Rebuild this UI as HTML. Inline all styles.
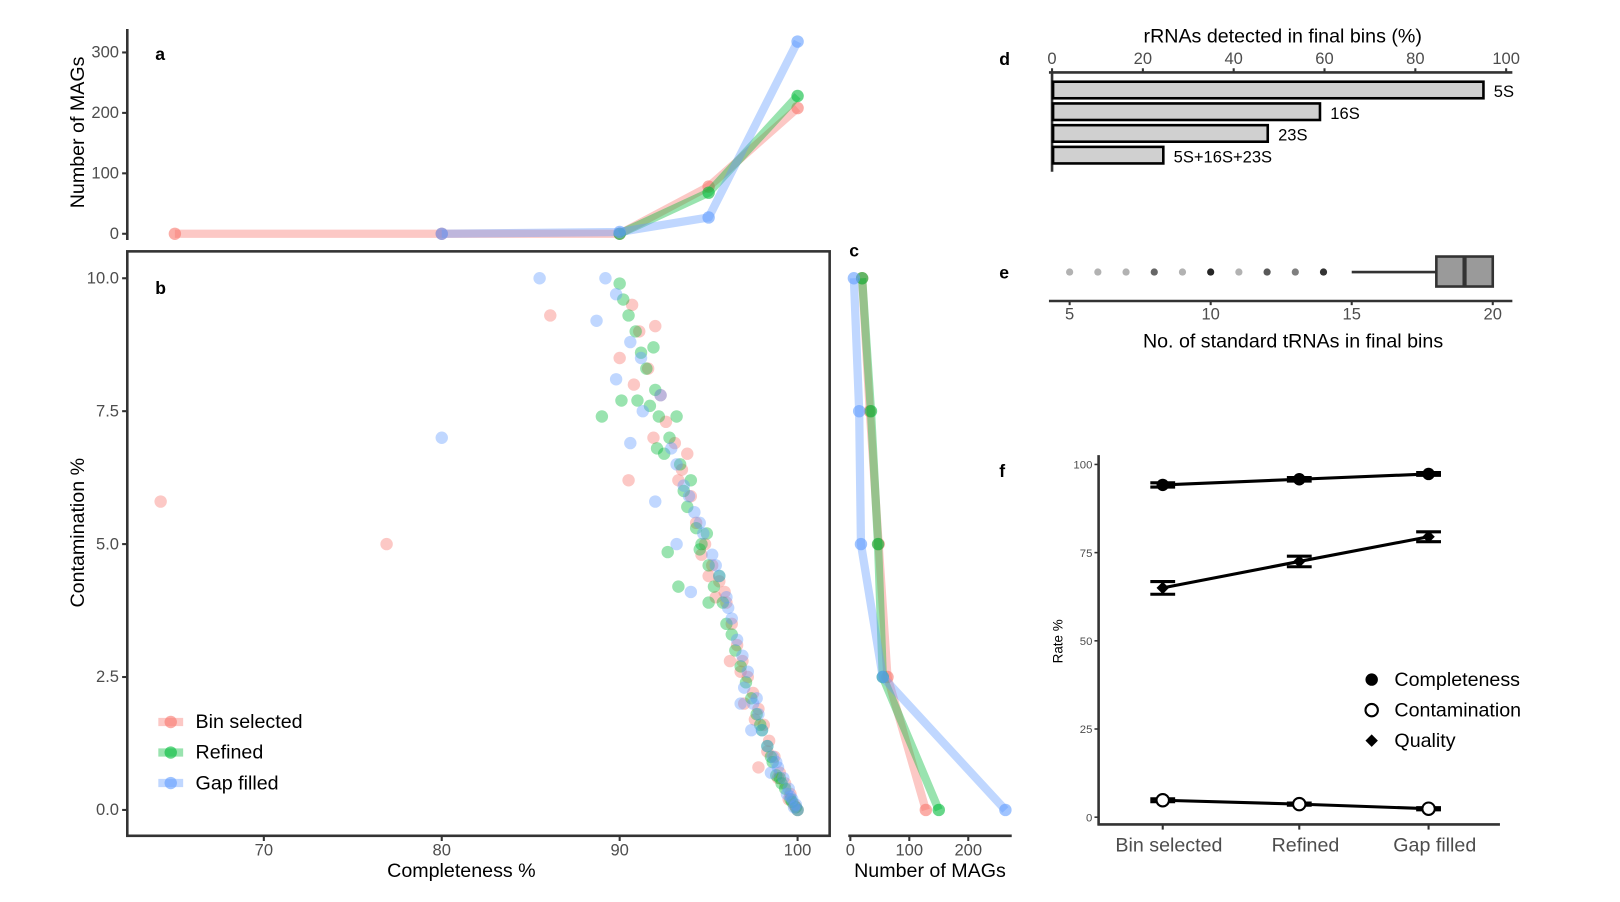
<!DOCTYPE html>
<html><head><meta charset="utf-8"><style>
html,body{margin:0;padding:0;background:#fff}
svg{display:block;font-family:"Liberation Sans",Arial,sans-serif}
.tk{fill:#4d4d4d;font-size:16px}
.tt{fill:#000;font-size:19px}
.lb{font-weight:bold;font-size:17px;fill:#000}
</style></head><body>
<svg id="fig" width="1620" height="902" viewBox="0 0 1566 872" xmlns="http://www.w3.org/2000/svg">
<g id="pa"></g>
<g id="pb"></g>
<g id="pc"></g>
<g id="pd"></g>
<g id="pe"></g>
<g id="pf"></g>
</svg>
<script>
// ---- data ----
const seriesNames = ["Bin selected","Refined","Gap filled"];
const seriesColors = ["#f8766d","#00ba38","#619cff"];
// panel a
const aX_red = [65,80,90,95,100];
const aY_red = [0,0,0,78,208];
const aX_green = [90,95,100];
const aY_green = [0,68,228];
const aX_blue = [80,90,95,100];
const aY_blue = [0,3,27,318];
const aTicksY = [0,100,200,300];
// panel b scatter
const bRedX = [64.2,76.9,86.1,90.0,90.5,97.8,90.7,91.1,91.6,92.3,92.6,93.1,93.8,93.5,94.0,94.3,94.8,95.2,95.6,96.0,96.3,96.6,96.9,97.2,97.5,97.8,98.1,98.4,98.7,99.0,99.3,99.6,100,99.8,90.8,91.9,95.9,97.0,96.2,92.0,94.6,95.4,96.8,97.6,98.3,98.9,99.5,99.9,93.3,95.0];
const bRedY = [5.8,5.0,9.3,8.5,6.2,0.8,9.5,9.0,8.3,7.8,7.3,6.9,6.7,6.4,5.9,5.4,5.0,4.6,4.3,3.9,3.5,3.1,2.8,2.5,2.2,1.9,1.6,1.3,1.0,0.7,0.5,0.3,0,0.1,8.0,7.0,4.1,2.0,2.8,9.1,4.8,4.0,2.6,1.7,1.1,0.6,0.2,0.05,6.2,4.4];
const bGreenX = [89,92.7,93.3,90.1,98.8,90.0,90.2,90.5,90.9,91.2,91.5,91.9,92.0,91.7,92.2,92.8,93.2,92.5,93.4,94.0,93.8,94.3,94.6,94.5,95.0,95.3,95.0,95.8,96.0,96.5,96.8,97.1,97.4,97.7,98.0,98.3,98.6,99.0,99.3,99.6,100,99.9,91.0,92.1,95.6,96.3,97.9,98.5,99.1,99.7,94.9,93.6];
const bGreenY = [7.4,4.85,4.2,7.7,0.65,9.9,9.6,9.3,9.0,8.6,8.3,8.7,7.9,7.6,7.4,7.0,7.4,6.7,6.5,6.2,5.7,5.3,5.0,4.9,4.6,4.2,3.9,3.9,3.5,3.0,2.7,2.4,2.1,1.8,1.5,1.2,0.9,0.6,0.4,0.2,0,0.05,7.7,6.8,4.4,3.3,1.6,1.0,0.5,0.15,5.2,6.0];
const bBlueX = [85.5,89.2,88.7,80,92.0,90.6,89.8,93.2,94.0,89.8,90.6,91.2,92.3,91.3,92.9,93.2,93.6,94.2,94.7,95.2,95.6,96.0,96.3,96.6,96.9,97.2,97.0,97.5,97.8,98.0,98.3,98.6,98.9,99.2,99.5,99.7,100,99.9,99.4,98.5,96.8,97.4,95.4,96.1,97.7,98.8,99.6,99.8,94.5,93.9];
const bBlueY = [10,10,9.2,7.0,5.8,6.9,8.1,5.0,4.1,9.7,8.8,8.5,7.8,7.5,6.8,6.5,6.1,5.6,5.2,4.8,4.4,4.0,3.6,3.2,2.9,2.6,2.3,2.0,1.8,1.5,1.2,1.0,0.8,0.6,0.4,0.2,0,0.1,0.3,0.7,2.0,1.5,4.6,3.8,2.1,0.9,0.25,0.05,5.4,5.9];
const bTicksX = [70,80,90,100];
const bTicksY = [0,2.5,5,7.5,10];
// panel c
const cLevels = [10,7.5,5,2.5,0];
const cRed = [20,33,48,63,128];
const cGreen = [20,35,47,55,150];
const cBlue = [6,15,18,55,263];
const cTicks = [0,100,200];
// panel d
const dCats = ["5S","16S","23S","5S+16S+23S"];
const dVals = [95,59,47.5,24.5];
const dTicks = [0,20,40,60,80,100];
// panel e
const eOutliers = [5,6,7,8,9,10,11,12,13,14];
const eOutShade = [0.3,0.3,0.3,0.6,0.3,0.85,0.3,0.65,0.5,0.8];
const eWhiskerLo = 15, eQ1 = 18, eMed = 19, eQ3 = 20;
const eTicks = [5,10,15,20];
// panel f
const fCats = ["Bin selected","Refined","Gap filled"];
const fComp = [94.2,95.8,97.3];
const fCompErr = [0.6,0.5,0.4];
const fQual = [65,72.5,79.5];
const fQualErr = [1.8,1.5,1.4];
const fCont = [4.8,3.7,2.4];
const fContErr = [0.4,0.3,0.3];
const fTicks = [0,25,50,75,100];

const NS="http://www.w3.org/2000/svg";
function mk(tag,attrs,parent,text){const e=document.createElementNS(NS,tag);for(const k in attrs)e.setAttribute(k,attrs[k]);if(text!==undefined)e.textContent=text;parent.appendChild(e);return e;}

const xC = v => 771 + (v-100)*17.2;
const yCont = v => 783 - v*51.4;

// ---- panel a ----
const pa=document.getElementById('pa');
const yA = v => 226 - v*0.5843;
let el=mk('line',{x1:123,y1:28,x2:123,y2:232,stroke:'#333','stroke-width':2.5},pa);
 
aTicksY.forEach(t=>{mk('line',{x1:118,x2:123,y1:yA(t),y2:yA(t),stroke:'#333','stroke-width':2},pa);
 el=mk('text',{x:115,y:yA(t)+5,'text-anchor':'end',class:'tk'},pa,t);
  });
el=mk('text',{x:81,y:128,'text-anchor':'middle',class:'tt',transform:'rotate(-90 81 128)'},pa,'Number of MAGs');
 
el=mk('text',{x:150,y:58,class:'lb'},pa,'a');  
function lineSeries(g,xs,ys,fx,fy,col,name){
 const pts=xs.map((x,i)=>fx(x)+','+fy(ys[i])).join(' ');
 let l=mk('polyline',{points:pts,fill:'none',stroke:col,'stroke-width':8,'stroke-opacity':0.4,'stroke-linejoin':'round'},g);
  
 xs.forEach((x,i)=>{let c=mk('circle',{cx:fx(x),cy:fy(ys[i]),r:6,fill:col,'fill-opacity':0.6},g);
   });
}
lineSeries(pa,aX_red,aY_red,xC,yA,seriesColors[0],'a-bin-selected');
lineSeries(pa,aX_green,aY_green,xC,yA,seriesColors[1],'a-refined');
lineSeries(pa,aX_blue,aY_blue,xC,yA,seriesColors[2],'a-gap-filled');

// ---- panel b ----
const pb=document.getElementById('pb');
el=mk('rect',{x:123,y:243,width:679,height:565,fill:'none',stroke:'#333','stroke-width':2.5},pb);
 
bTicksX.forEach(t=>{mk('line',{x1:xC(t),x2:xC(t),y1:808,y2:813,stroke:'#333','stroke-width':2},pb);
 el=mk('text',{x:xC(t),y:827,'text-anchor':'middle',class:'tk'},pb,t);
  });
bTicksY.forEach(t=>{mk('line',{x1:118,x2:123,y1:yCont(t),y2:yCont(t),stroke:'#333','stroke-width':2},pb);
 el=mk('text',{x:115,y:yCont(t)+5,'text-anchor':'end',class:'tk'},pb,t.toFixed(1));
  });
el=mk('text',{x:446,y:848,'text-anchor':'middle',class:'tt'},pb,'Completeness %');
 
el=mk('text',{x:81,y:515,'text-anchor':'middle',class:'tt',transform:'rotate(-90 81 515)'},pb,'Contamination %');
 
el=mk('text',{x:150,y:284,class:'lb'},pb,'b');  
function scatter(xs,ys,col,name){xs.forEach((x,i)=>{let c=mk('circle',{cx:xC(x),cy:yCont(ys[i]),r:6,fill:col,'fill-opacity':0.4},pb);
  });}
scatter(bRedX,bRedY,seriesColors[0],'b-bin-selected');
scatter(bGreenX,bGreenY,seriesColors[1],'b-refined');
scatter(bBlueX,bBlueY,seriesColors[2],'b-gap-filled');
seriesNames.forEach((n,i)=>{const y=698+i*29.5;
 let g=mk('g',{},pb);  
 mk('line',{x1:153,x2:177,y1:y,y2:y,stroke:seriesColors[i],'stroke-width':8,'stroke-opacity':0.4},g);
 mk('circle',{cx:165,cy:y,r:6,fill:seriesColors[i],'fill-opacity':0.6},g);
 mk('text',{x:189,y:y+6,class:'tt'},g,n);});

// ---- panel c ----
const pc=document.getElementById('pc');
const xN = v => 822 + v*0.57;
el=mk('line',{x1:820,x2:978,y1:808,y2:808,stroke:'#333','stroke-width':2.5},pc);
 
cTicks.forEach(t=>{mk('line',{x1:xN(t),x2:xN(t),y1:808,y2:813,stroke:'#333','stroke-width':2},pc);
 el=mk('text',{x:xN(t),y:827,'text-anchor':'middle',class:'tk'},pc,t);
  });
el=mk('text',{x:899,y:848,'text-anchor':'middle',class:'tt'},pc,'Number of MAGs');
 
el=mk('text',{x:821,y:248,class:'lb'},pc,'c');  
lineSeries(pc,cRed,cLevels,xN,yCont,seriesColors[0],'c-bin-selected');
lineSeries(pc,cGreen,cLevels,xN,yCont,seriesColors[1],'c-refined');
lineSeries(pc,cBlue,cLevels,xN,yCont,seriesColors[2],'c-gap-filled');

// ---- panel d ----
const pd=document.getElementById('pd');
const xD = v => 1017 + v*4.39;
el=mk('line',{x1:1014,x2:1462,y1:70,y2:70,stroke:'#333','stroke-width':2.5},pd);
 
mk('line',{x1:1017,x2:1017,y1:70,y2:166,stroke:'#333','stroke-width':2.5},pd);
dTicks.forEach(t=>{mk('line',{x1:xD(t),x2:xD(t),y1:66,y2:70,stroke:'#333','stroke-width':2},pd);
 el=mk('text',{x:xD(t),y:62,'text-anchor':'middle',class:'tk'},pd,t);
  });
el=mk('text',{x:1240,y:41,'text-anchor':'middle',class:'tt'},pd,'rRNAs detected in final bins (%)');
 
el=mk('text',{x:966,y:63,class:'lb'},pd,'d');  
dCats.forEach((c,i)=>{const y=79+i*21;
 let r=mk('rect',{x:1018,y:y,width:xD(dVals[i])-1018,height:16,fill:'#d0d0d0',stroke:'#000','stroke-width':2.5},pd);
  
 let t=mk('text',{x:xD(dVals[i])+10,y:y+15,'font-size':16,fill:'#000'},pd,c);
  });

// ---- panel e ----
const pe=document.getElementById('pe');
const xE = v => 1034 + (v-5)*27.27;
el=mk('line',{x1:1014,x2:1462,y1:291,y2:291,stroke:'#333','stroke-width':2.5},pe);
 
eTicks.forEach(t=>{mk('line',{x1:xE(t),x2:xE(t),y1:291,y2:295,stroke:'#333','stroke-width':2},pe);
 el=mk('text',{x:xE(t),y:309,'text-anchor':'middle',class:'tk'},pe,t);
  });
el=mk('text',{x:1250,y:336,'text-anchor':'middle',class:'tt'},pe,'No. of standard tRNAs in final bins');
 
el=mk('text',{x:966,y:269,class:'lb'},pe,'e');  
eOutliers.forEach((v,i)=>{let c=mk('circle',{cx:xE(v),cy:263,r:3.5,fill:'#000','fill-opacity':eOutShade[i]},pe);
  });
el=mk('line',{x1:xE(eWhiskerLo),x2:xE(eQ1),y1:263,y2:263,stroke:'#333','stroke-width':2.5},pe);
 
el=mk('rect',{x:xE(eQ1),y:248,width:xE(eQ3)-xE(eQ1),height:29,fill:'#9a9a9a',stroke:'#333','stroke-width':2.5},pe);
 
el=mk('line',{x1:xE(eMed),x2:xE(eMed),y1:248,y2:277,stroke:'#333','stroke-width':4},pe);
 

// ---- panel f ----
const pf=document.getElementById('pf');
const yF = v => 790 - v*3.41;
const xF = i => [1124,1256,1381][i];
el=mk('line',{x1:1062,x2:1062,y1:440,y2:798,stroke:'#333','stroke-width':2.5},pf);
 
el=mk('line',{x1:1061,x2:1450,y1:797,y2:797,stroke:'#333','stroke-width':2.5},pf);
 
fTicks.forEach(t=>{mk('line',{x1:1058,x2:1062,y1:yF(t),y2:yF(t),stroke:'#333','stroke-width':1.5},pf);
 el=mk('text',{x:1056,y:yF(t)+4,'text-anchor':'end','font-size':11,fill:'#4d4d4d'},pf,t);
  });
fCats.forEach((c,i)=>{mk('line',{x1:xF(i),x2:xF(i),y1:797,y2:802,stroke:'#333','stroke-width':2},pf);
 el=mk('text',{x:xF(i)+6,y:823,'text-anchor':'middle','font-size':19,fill:'#4d4d4d'},pf,c);
  });
el=mk('text',{x:1027,y:620,'text-anchor':'middle','font-size':13,fill:'#000',transform:'rotate(-90 1027 620)'},pf,'Rate %');
 
el=mk('text',{x:966,y:461,class:'lb'},pf,'f');  
function fSeries(vals,errs,shape,name){
 let l=mk('polyline',{points:vals.map((v,i)=>xF(i)+','+yF(v)).join(' '),fill:'none',stroke:'#000','stroke-width':3},pf);
  
 vals.forEach((v,i)=>{const x=xF(i);
  let g=mk('g',{},pf);  
  mk('line',{x1:x-12,x2:x+12,y1:yF(v+errs[i]),y2:yF(v+errs[i]),stroke:'#000','stroke-width':3},g);
  mk('line',{x1:x-12,x2:x+12,y1:yF(v-errs[i]),y2:yF(v-errs[i]),stroke:'#000','stroke-width':3},g);
  mk('line',{x1:x,x2:x,y1:yF(v+errs[i]),y2:yF(v-errs[i]),stroke:'#000','stroke-width':3},g);
  let m;
  if(shape==='fill') m=mk('circle',{cx:x,cy:yF(v),r:6,fill:'#000'},pf);
  else if(shape==='open') m=mk('circle',{cx:x,cy:yF(v),r:6,fill:'#fff',stroke:'#000','stroke-width':2},pf);
  else { const y=yF(v); m=mk('polygon',{points:`${x},${y-6} ${x+6},${y} ${x},${y+6} ${x-6},${y}`,fill:'#000'},pf);}
   });
}
fSeries(fComp,fCompErr,'fill','f-completeness');
fSeries(fQual,fQualErr,'diamond','f-quality');
fSeries(fCont,fContErr,'open','f-contamination');
const legF=[['Completeness','fill'],['Contamination','open'],['Quality','diamond']];
legF.forEach((e,i)=>{const y=657+i*29.5;
 let g=mk('g',{},pf);  
 if(e[1]==='fill') mk('circle',{cx:1326,cy:y,r:6,fill:'#000'},g);
 else if(e[1]==='open') mk('circle',{cx:1326,cy:y,r:6,fill:'#fff',stroke:'#000','stroke-width':2},g);
 else mk('polygon',{points:`1326,${y-6} 1332,${y} 1326,${y+6} 1320,${y}`,fill:'#000'},g);
 mk('text',{x:1348,y:y+6,'font-size':19,fill:'#000'},g,e[0]);});
</script>
</body></html>
